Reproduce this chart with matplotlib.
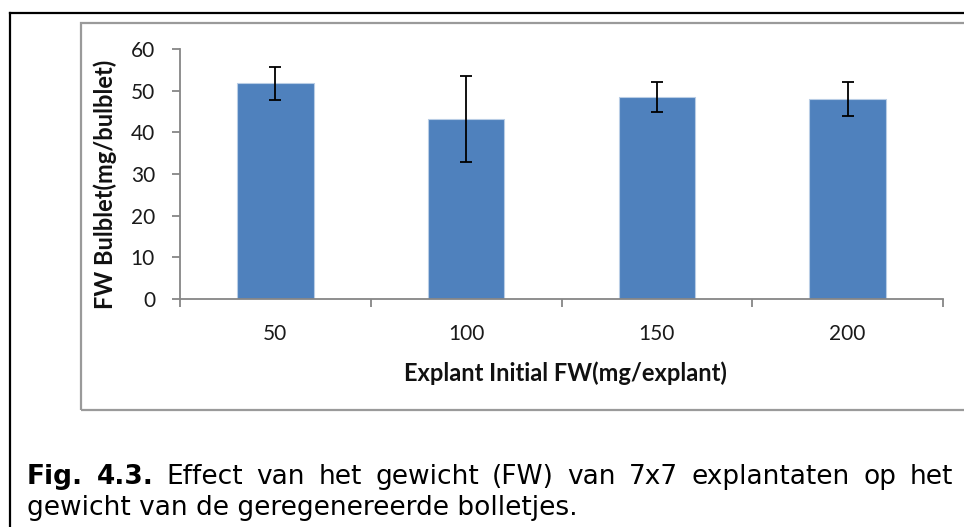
import numpy as np
import matplotlib
matplotlib.use("Agg")
import matplotlib.pyplot as plt
from matplotlib.patches import Rectangle
from matplotlib.lines import Line2D

# explant initial weight classes and mean bulblet weight with error
categories = ["50", "100", "150", "200"]
fw_bulblet = [51.8, 43.2, 48.5, 48.0]
fw_error = [4.0, 10.2, 3.5, 4.1]
y_ticks = [0, 10, 20, 30, 40, 50, 60]

W, H = 964, 527
fig = plt.figure(figsize=(W / 100, H / 100), dpi=100)

# axes placed in pixel units
def px(x0, y0, x1, y1):
    return [x0 / W, 1 - y1 / H, (x1 - x0) / W, (y1 - y0) / H]

ax = fig.add_axes(px(180, 49, 943, 299))
x = np.arange(len(categories))
ax.bar(x, fw_bulblet, width=0.4, color="#4F81BD", edgecolor="#B9CDE5", linewidth=0.8, zorder=2)
ax.errorbar(x, fw_bulblet, yerr=fw_error, fmt="none", ecolor="#000000",
            elinewidth=1.3, capsize=4.5, capthick=1.3, zorder=3)

ax.set_xlim(-0.5, len(categories) - 0.5)
ax.set_ylim(0, 60)
ax.set_yticks(y_ticks)
ax.set_xticks(x)
ax.set_xticklabels(categories)
ax.set_xticks(np.arange(len(categories) + 1) - 0.5, minor=True)

grey = "#868686"
for s in ["top", "right"]:
    ax.spines[s].set_visible(False)
for s in ["left", "bottom"]:
    ax.spines[s].set_color(grey)
    ax.spines[s].set_linewidth(1.3)

ax.tick_params(axis="y", direction="out", length=6, width=1.3, color=grey,
               pad=12, labelcolor="#1a1a1a", labelsize=15)
ax.tick_params(axis="x", which="major", length=0, pad=18, labelcolor="#1a1a1a", labelsize=15)
ax.tick_params(axis="x", which="minor", direction="out", length=6, width=1.3, color=grey)
for lab in ax.get_xticklabels() + ax.get_yticklabels():
    lab.set_fontfamily("Lato")

ax.set_xlabel("Explant Initial FW(mg/explant)", fontfamily="Lato", fontweight="bold",
              fontsize=17, color="#111111")
ax.set_ylabel("FW Bulblet(mg/bulblet)", fontfamily="Lato", fontweight="bold",
              fontsize=17, color="#111111")
ax.xaxis.set_label_coords(0.505, -0.25)
ax.yaxis.set_label_coords(-0.083, 0.46)

# chart area box and outer frame
fig.add_artist(Rectangle((81 / W, 1 - 410 / H), (W + 10 - 81) / W, (410 - 23) / H,
                         transform=fig.transFigure, fill=False, edgecolor="#9a9a9a", linewidth=1.6))
fig.add_artist(Line2D([10 / W, 10 / W], [0, 1 - 13 / H], transform=fig.transFigure,
                      color="black", linewidth=1.6))
fig.add_artist(Line2D([10 / W, 1.01], [1 - 13 / H, 1 - 13 / H], transform=fig.transFigure,
                      color="black", linewidth=1.6))

# caption, first line justified between the frame margins
line1 = [("Fig.", "bold"), ("4.3.", "bold"), ("Effect", "normal"), ("van", "normal"),
         ("het", "normal"), ("gewicht", "normal"), ("(FW)", "normal"), ("van", "normal"),
         ("7x7", "normal"), ("explantaten", "normal"), ("op", "normal"), ("het", "normal")]
line2 = "gewicht van de geregenereerde bolletjes."
cap_size = 19
x_left, x_right = 27, 953
y1, y2 = 484, 515

renderer = fig.canvas.get_renderer()
texts = []
for word, wt in line1:
    t = fig.text(0, 1 - y1 / H, word, fontsize=cap_size, fontweight=wt,
                 family="DejaVu Sans", va="baseline", ha="left")
    texts.append(t)
widths = [t.get_window_extent(renderer).width for t in texts]
gap = (x_right - x_left - sum(widths)) / (len(texts) - 1)
cur = x_left
for t, w in zip(texts, widths):
    t.set_x(cur / W)
    cur += w + gap

fig.text(x_left / W, 1 - y2 / H, line2, fontsize=cap_size, family="DejaVu Sans",
         va="baseline", ha="left")

fig.savefig("out.png", dpi=100)
